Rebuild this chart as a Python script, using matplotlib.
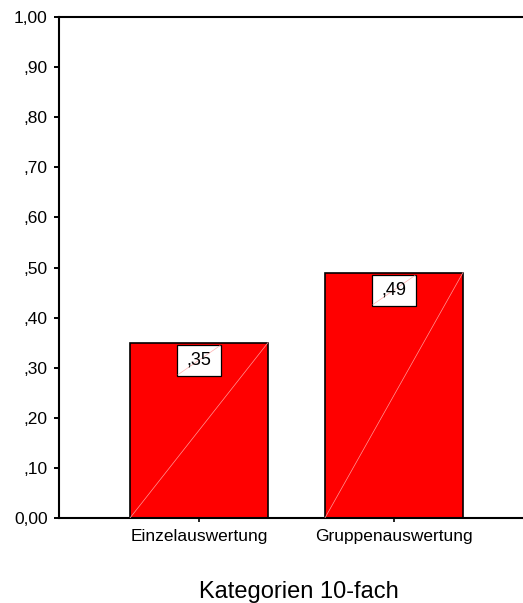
import matplotlib
matplotlib.use("Agg")
import matplotlib.pyplot as plt
from matplotlib.patches import Rectangle
from matplotlib.transforms import ScaledTranslation

# mean share per evaluation mode
categories = ["Einzelauswertung", "Gruppenauswertung"]
values = [0.35, 0.49]
value_labels = [",35", ",49"]
y_ticks = [0.0, 0.1, 0.2, 0.3, 0.4, 0.5, 0.6, 0.7, 0.8, 0.9, 1.0]
y_tick_labels = ["0,00", ",10", ",20", ",30", ",40", ",50", ",60", ",70", ",80", ",90", "1,00"]
x_title = "Kategorien 10-fach"

plt.rcParams["font.family"] = ["Liberation Sans", "DejaVu Sans"]

W, H, DPI = 523, 603, 100
fig = plt.figure(figsize=(W / DPI, H / DPI), dpi=DPI)
ax = fig.add_axes([59 / W, (H - 518) / H, 481 / W, 501 / H])

x = list(range(len(categories)))
bars = ax.bar(x, values, width=0.708, color="#ff0000", edgecolor="black",
              linewidth=1.2, zorder=2)

# faint diagonal inside each bar
for b in bars:
    x0, y0 = b.get_x(), b.get_y()
    ax.plot([x0, x0 + b.get_width()], [y0, y0 + b.get_height()],
            color="#ff9a9a", lw=0.5, zorder=3)

# value boxes hanging just below the bar top
bw, bh = 44 / DPI, 31 / DPI
for xi, v, lab in zip(x, values, value_labels):
    off = fig.dpi_scale_trans + ScaledTranslation(xi, v, ax.transData)
    ax.add_patch(Rectangle((-bw / 2 + 1.2 / DPI, -bh - 3.2 / DPI), bw, bh,
                           transform=off, facecolor="black", edgecolor="none",
                           zorder=4))
    ax.add_patch(Rectangle((-bw / 2, -bh - 2 / DPI), bw, bh, transform=off,
                           facecolor="white", edgecolor="black", lw=0.9,
                           zorder=5))
    ax.plot([-bw / 2 + 1 / DPI, bw / 2 - 1 / DPI],
            [-bh - 1 / DPI, -3 / DPI], transform=off,
            color="#ffb0b0", lw=0.5, zorder=6)
    ax.text(0, -bh / 2 - 2 / DPI, lab, transform=off, ha="center",
            va="center", fontsize=13, zorder=7)

ax.set_xlim(-0.718, 1.749)
ax.set_ylim(0, 1)
ax.set_yticks(y_ticks)
ax.set_yticklabels(y_tick_labels, fontsize=12.5)
ax.set_xticks(x)
ax.set_xticklabels(categories, fontsize=12.5)
ax.tick_params(axis="y", length=3.6, width=1.4, pad=4.5, direction="out")
ax.tick_params(axis="x", length=3, width=1.2, pad=5, direction="out")

for side in ("left", "bottom", "top"):
    ax.spines[side].set_linewidth(1.5)
ax.spines["right"].set_visible(False)

fig.text(299 / W, (H - 598) / H, x_title, ha="center", va="baseline",
         fontsize=17)

fig.savefig("out.png", dpi=DPI)
